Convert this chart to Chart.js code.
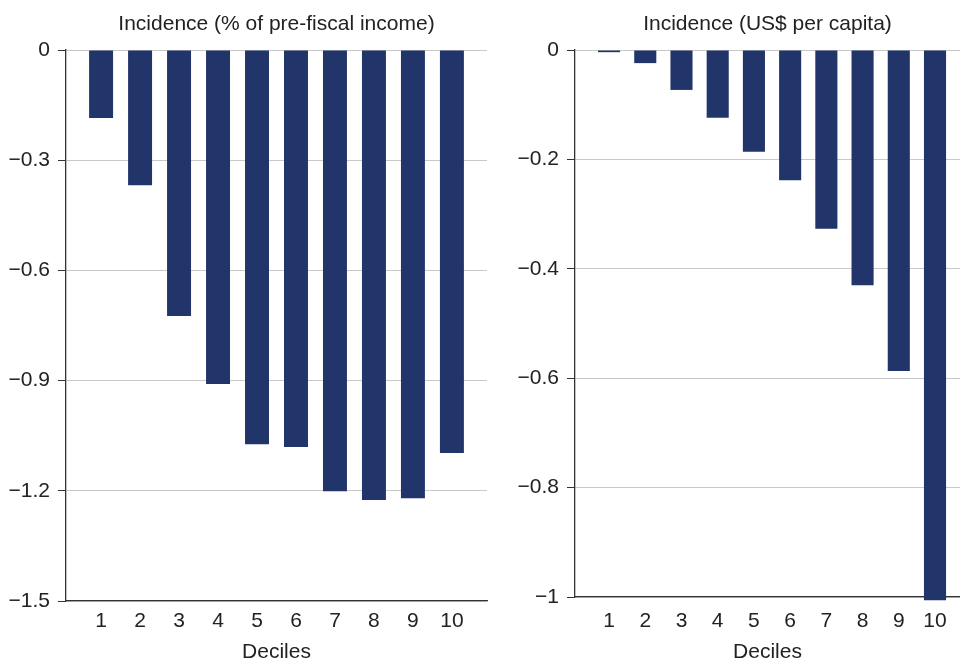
<!DOCTYPE html>
<html><head><meta charset="utf-8">
<script src="https://cdn.jsdelivr.net/npm/chart.js@4"></script>
<style>
html,body{margin:0;padding:0;background:#fff;}
#wrap{position:relative;width:960px;height:660px;}
#c1{position:absolute;left:0;top:0;}
#c2{position:absolute;left:490px;top:0;}
</style></head>
<body><div id="wrap"><canvas id="c1" width="490" height="660"></canvas><canvas id="c2" width="470" height="660"></canvas></div>
<script>
const deciles = [1,2,3,4,5,6,7,8,9,10];
const pctIncome = [-0.185,-0.368,-0.724,-0.909,-1.073,-1.081,-1.201,-1.225,-1.220,-1.097];
const usdPerCapita = [-0.004,-0.024,-0.073,-0.124,-0.186,-0.238,-0.327,-0.430,-0.587,-1.006];
const leftTicks = [0,-0.3,-0.6,-0.9,-1.2,-1.5];
const rightTicks = [0,-0.2,-0.4,-0.6,-0.8,-1];

const BAR = '#22356b';
const TXT = '#222222';
const FONT = 'Liberation Sans, Arial, Helvetica, sans-serif';
const FS = 21;

function fmt(v){
  const r = Math.round(v*10)/10;
  if (r === 0) return '0';
  return (r<0?'\u2212':'') + String(Math.abs(r));
}

function makeChart(id, title, vals, yTicks, xmin, xmax, yAxisW, xAxisH, padRight, barPct, xTickPad){
  return new Chart(document.getElementById(id), {
    type: 'bar',
    data: { datasets: [{
      data: deciles.map((d,i)=>({x:d, y:vals[i]})),
      backgroundColor: BAR, borderWidth: 0,
      categoryPercentage: 1, barPercentage: barPct, clip: false
    }]},
    options: {
      responsive: false, animation: false,
      layout: { padding: { left: 0, right: padRight, top: 0, bottom: 0 } },
      plugins: {
        legend: { display: false }, tooltip: { enabled: false },
        title: { display: true, text: title, fullSize: false, color: TXT,
          font: { family: FONT, size: FS, weight: 'normal' }, padding: { top: 11.4, bottom: 13.4 } }
      },
      scales: {
        x: {
          type: 'linear', min: xmin, max: xmax, offset: false,
          afterBuildTicks: s => { s.ticks = deciles.map(v=>({value:v})); },
          afterFit: s => { s.height = xAxisH; },
          grid: { display: false, drawTicks: false },
          border: { display: true, color: '#333', width: 1.3 },
          ticks: { color: TXT, font: { family: FONT, size: FS }, padding: xTickPad, autoSkip: false, maxRotation: 0 },
          title: { display: true, text: 'Deciles', color: TXT, font: { family: FONT, size: FS }, padding: { top: 0, bottom: -5 } }
        },
        y: {
          min: yTicks[yTicks.length-1], max: 0,
          afterBuildTicks: s => { s.ticks = yTicks.map(v=>({value:v})); },
          afterFit: s => { s.width = yAxisW; },
          grid: { color: '#c8c8c8', lineWidth: 1, tickLength: 8, tickColor: '#333', drawTicks: true },
          border: { display: true, color: '#333', width: 1.3 },
          ticks: { color: TXT, font: { family: FONT, size: FS }, padding: 8, callback: v => fmt(v) }
        }
      }
    }
  });
}

makeChart('c1', 'Incidence (% of pre-fiscal income)', pctIncome, leftTicks, 0.1, 10.9, 66, 59, 3, 0.615, 8);
makeChart('c2', 'Incidence (US$ per capita)', usdPerCapita, rightTicks, 0.06, 10.69, 85, 63, 0, 0.61, 12);
</script></body></html>
